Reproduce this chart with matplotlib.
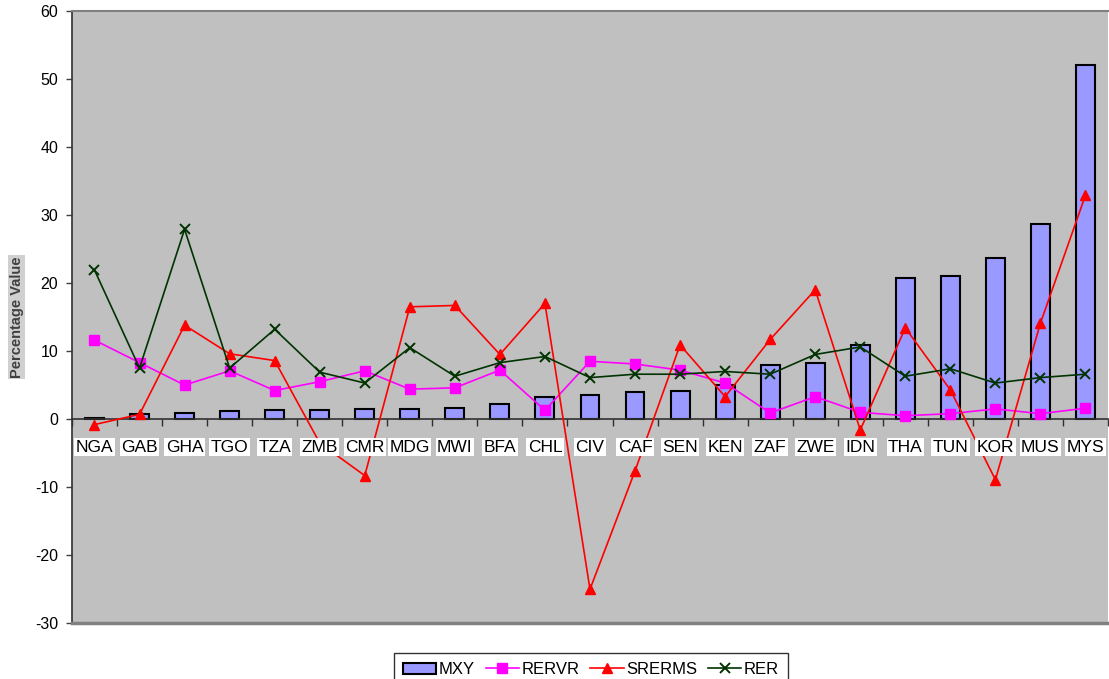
import matplotlib
matplotlib.use("Agg")
import matplotlib.pyplot as plt
import matplotlib.transforms as mtransforms
from matplotlib.patches import Patch
from matplotlib.lines import Line2D
import numpy as np

plt.rcParams['font.family'] = ['Liberation Sans', 'DejaVu Sans']

countries = ["NGA", "GAB", "GHA", "TGO", "TZA", "ZMB", "CMR", "MDG", "MWI", "BFA",
             "CHL", "CIV", "CAF", "SEN", "KEN", "ZAF", "ZWE", "IDN", "THA", "TUN",
             "KOR", "MUS", "MYS"]
mxy = [0.2, 0.8, 0.9, 1.2, 1.3, 1.3, 1.5, 1.5, 1.7, 2.2,
       3.2, 3.6, 4.0, 4.2, 5.0, 8.0, 8.3, 10.9, 20.7, 21.0,
       23.6, 28.6, 52.1]
rervr = [11.6, 8.3, 5.0, 7.1, 4.2, 5.5, 7.1, 4.4, 4.6, 7.2,
         1.3, 8.5, 8.1, 7.2, 5.3, 0.9, 3.3, 1.0, 0.5, 0.8,
         1.5, 0.8, 1.6]
srerms = [-0.8, 0.7, 13.8, 9.6, 8.6, -3.5, -8.3, 16.5, 16.7, 9.5,
          17.0, -25.0, -7.6, 10.9, 3.3, 11.7, 19.0, -1.6, 13.4, 4.3,
          -8.9, 14.1, 32.9]
rer = [21.9, 7.5, 27.9, 7.5, 13.2, 6.9, 5.3, 10.5, 6.3, 8.3,
       9.2, 6.1, 6.6, 6.6, 7.0, 6.6, 9.5, 10.6, 6.3, 7.4,
       5.3, 6.1, 6.6]
yticks = [-30, -20, -10, 0, 10, 20, 30, 40, 50, 60]

fig = plt.figure(figsize=(11.09, 6.79), dpi=100)
ax = fig.add_axes([0.0649, 0.0820, 0.9342, 0.9022])
ax.set_facecolor('#C0C0C0')

x = np.arange(len(countries))
ax.bar(x, mxy, width=0.42, color='#9999FF', edgecolor='black', linewidth=1.5, zorder=2)

ax.plot(x, rervr, color='#FF00FF', lw=1.2, marker='s', ms=6.5, zorder=4, label='RERVR')
ax.plot(x, srerms, color='#FF0000', lw=1.2, marker='^', ms=7, zorder=4, label='SRERMS')
ax.plot(x, rer, color='#003300', lw=1.2, marker='x', ms=6.5, mew=1.4, zorder=4, label='RER')

ax.set_xlim(-0.5, len(countries) - 0.5)
ax.set_ylim(-30, 60)
ax.set_yticks(yticks)
ax.set_yticklabels([str(v) for v in yticks], fontsize=11.5)
ax.tick_params(axis='y', direction='out', length=4, width=1, color='#404040', pad=6)

# category axis crosses at zero
ax.spines['bottom'].set_position(('data', 0))
ax.spines['bottom'].set_color('#303030')
ax.spines['bottom'].set_linewidth(1.2)
ax.spines['bottom'].set_zorder(3)
ax.set_xticks(np.arange(-0.5, len(countries) - 0.5 + 1e-9, 1.0))
ax.set_xticklabels([])
ax.tick_params(axis='x', direction='out', length=5, width=1, color='#303030')
ax.spines['left'].set_color('#303030')
ax.spines['left'].set_linewidth(1.2)
ax.spines['top'].set_color('#808080')
ax.spines['top'].set_linewidth(1.5)
ax.spines['right'].set_visible(False)
ax.axhline(-30, color='#808080', lw=2.5, zorder=5, clip_on=False)

offset = mtransforms.ScaledTranslation(0, -28 / 100, fig.dpi_scale_trans)
for xi, name in zip(x, countries):
    ax.text(xi, 0, name, transform=ax.transData + offset, ha='center', va='center',
            fontsize=12.5, color='black', zorder=10,
            bbox=dict(boxstyle='square,pad=0.08', facecolor='white', edgecolor='none'))

fig.text(16.7 / 1109, 1 - 317 / 679, 'Percentage Value', rotation=90, ha='center',
         va='center', fontsize=10.5, fontweight='bold', color='#404040',
         bbox=dict(boxstyle='square,pad=0.1', facecolor='#D0D0D0', edgecolor='none'))

handles = [Patch(facecolor='#9999FF', edgecolor='black', linewidth=1.5, label='MXY'),
           Line2D([], [], color='#FF00FF', lw=1.2, marker='s', ms=6.5, label='RERVR'),
           Line2D([], [], color='#FF0000', lw=1.2, marker='^', ms=7, label='SRERMS'),
           Line2D([], [], color='#003300', lw=1.2, marker='x', ms=6.5, mew=1.4, label='RER')]
leg = fig.legend(handles=handles, loc='upper center', bbox_to_anchor=(591 / 1109, 1 - 653 / 679),
                 ncol=4, frameon=True, fancybox=False, edgecolor='black', fontsize=12,
                 handlelength=2.0, handletextpad=0.15, columnspacing=0.65, borderpad=0.55,
                 borderaxespad=0)
leg.get_frame().set_linewidth(1.0)

fig.savefig('out.png', dpi=100, facecolor='white')
